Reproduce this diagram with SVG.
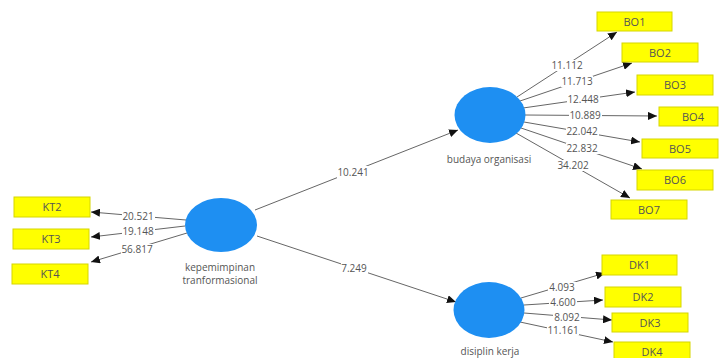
<svg xmlns="http://www.w3.org/2000/svg" width="722" height="358" viewBox="0 0 722 358">
<defs>
<marker id="ah" markerWidth="9" markerHeight="8" refX="9" refY="4" orient="auto" markerUnits="userSpaceOnUse">
<path d="M0,0 L9,4 L0,8 Z" fill="#111"/>
</marker>
<style>
.c{fill:#1e8ff2}
.b{fill:#ffff00;stroke:#d6d600;stroke-width:1}
.bt{font-family:"Open Sans","DejaVu Sans",sans-serif;font-size:11px;fill:#555;text-anchor:middle}
.nl{font-family:"Open Sans","DejaVu Sans",sans-serif;font-size:10px;fill:#555;text-anchor:middle}
.e line{stroke:#666;stroke-width:1;marker-end:url(#ah)}
.e rect{fill:#fff}
.e text{font-family:"Open Sans","DejaVu Sans",sans-serif;font-size:10px;fill:#555;text-anchor:middle;dominant-baseline:central}
</style>
</defs>
<rect width="722" height="358" fill="#fff"/>
<g id="connectors" class="e">
<line x1="255" y1="210" x2="458" y2="130"/>
<line x1="257" y1="236" x2="456" y2="302"/>
<line x1="186" y1="220" x2="91" y2="212"/>
<line x1="185" y1="226" x2="91" y2="237"/>
<line x1="187" y1="233" x2="91" y2="262"/>
<line x1="517" y1="97" x2="617" y2="32"/>
<line x1="520" y1="101" x2="632" y2="63"/>
<line x1="523" y1="108" x2="635" y2="92"/>
<line x1="525" y1="115" x2="657" y2="116"/>
<line x1="524" y1="122" x2="640" y2="142"/>
<line x1="521" y1="128" x2="642" y2="169"/>
<line x1="516" y1="133" x2="630" y2="198"/>
<line x1="521" y1="298" x2="605" y2="273"/>
<line x1="524" y1="305" x2="603" y2="300"/>
<line x1="524" y1="313" x2="612" y2="320"/>
<line x1="520" y1="322" x2="613" y2="342"/>
<rect x="337" y="166" width="33" height="12"/><text x="353" y="172">10.241</text>
<rect x="341" y="262" width="27" height="12"/><text x="354" y="268">7.249</text>
<rect x="122" y="211" width="33" height="11"/><text x="138" y="216">20.521</text>
<rect x="122" y="226" width="33" height="11"/><text x="138" y="231">19.148</text>
<rect x="121" y="244" width="33" height="11"/><text x="137" y="249">56.817</text>
<rect x="551" y="60" width="32" height="11"/><text x="567" y="65">11.112</text>
<rect x="561" y="76" width="32" height="11"/><text x="577" y="81">11.713</text>
<rect x="567" y="94" width="33" height="11"/><text x="583" y="99">12.448</text>
<rect x="569" y="110" width="33" height="11"/><text x="585" y="115">10.889</text>
<rect x="566" y="126" width="33" height="11"/><text x="582" y="131">22.042</text>
<rect x="566" y="143" width="33" height="11"/><text x="582" y="148">22.832</text>
<rect x="557" y="160" width="33" height="11"/><text x="573" y="165">34.202</text>
<rect x="548" y="282" width="28" height="11"/><text x="562" y="287">4.093</text>
<rect x="549" y="297" width="28" height="11"/><text x="563" y="302">4.600</text>
<rect x="553" y="312" width="28" height="11"/><text x="567" y="317">8.092</text>
<rect x="547" y="324" width="32" height="11"/><text x="563" y="329.5">11.161</text>
</g>
<g id="kepemimpinan">
<ellipse class="c" cx="221" cy="225" rx="36" ry="27"/>
<text class="nl" x="220" y="271">kepemimpinan</text>
<text class="nl" x="220" y="284">tranformasional</text>
</g>
<g id="budaya">
<ellipse class="c" cx="490" cy="115" rx="35.5" ry="28"/>
<text class="nl" x="489" y="163">budaya organisasi</text>
</g>
<g id="disiplin">
<ellipse class="c" cx="489" cy="310" rx="35.5" ry="28"/>
<text class="nl" x="490" y="355">disiplin kerja</text>
</g>
<g id="KT2"><rect class="b" x="14" y="197" width="76" height="20"/><text class="bt" x="52" y="211">KT2</text></g>
<g id="KT3"><rect class="b" x="13" y="229" width="76" height="20"/><text class="bt" x="51" y="243">KT3</text></g>
<g id="KT4"><rect class="b" x="12" y="264" width="76" height="20"/><text class="bt" x="50" y="278">KT4</text></g>
<g id="BO1"><rect class="b" x="597" y="12" width="75" height="19"/><text class="bt" x="634.5" y="25.5">BO1</text></g>
<g id="BO2"><rect class="b" x="622" y="43" width="76" height="19"/><text class="bt" x="660" y="56.5">BO2</text></g>
<g id="BO3"><rect class="b" x="637" y="75" width="76" height="20"/><text class="bt" x="675" y="89">BO3</text></g>
<g id="BO4"><rect class="b" x="659" y="107" width="59" height="19"/><text class="bt" x="693" y="120.5">BO4</text></g>
<g id="BO5"><rect class="b" x="642" y="139" width="76" height="19"/><text class="bt" x="680" y="152.5">BO5</text></g>
<g id="BO6"><rect class="b" x="637" y="170" width="76" height="20"/><text class="bt" x="675" y="184">BO6</text></g>
<g id="BO7"><rect class="b" x="611" y="200" width="76" height="19"/><text class="bt" x="649" y="213.5">BO7</text></g>
<g id="DK1"><rect class="b" x="602" y="255" width="75" height="20"/><text class="bt" x="639.5" y="269">DK1</text></g>
<g id="DK2"><rect class="b" x="605" y="287" width="76" height="20"/><text class="bt" x="643" y="301">DK2</text></g>
<g id="DK3"><rect class="b" x="612" y="313" width="76" height="19"/><text class="bt" x="650" y="326.5">DK3</text></g>
<g id="DK4"><rect class="b" x="614" y="342" width="76" height="20"/><text class="bt" x="652" y="356">DK4</text></g>
</svg>
